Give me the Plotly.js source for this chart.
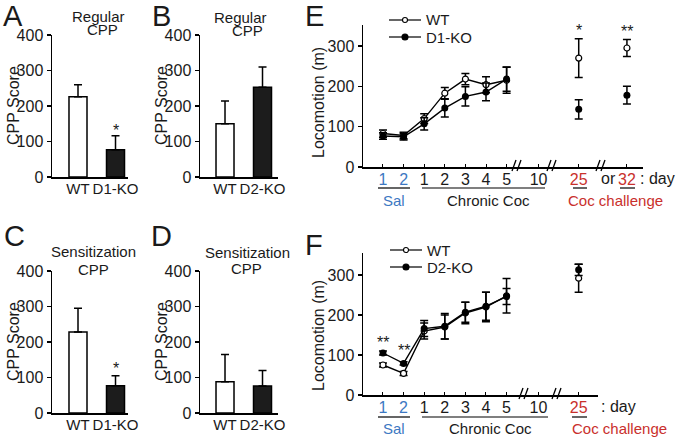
<!DOCTYPE html>
<html>
<head>
<meta charset="utf-8">
<script src="https://cdn.plot.ly/plotly-3.0.1.min.js"></script>
<style>body{margin:0;background:#fff}#chart{width:677px;height:437px}</style>
</head>
<body>
<div id="chart"></div>
<script>
// ---- CPP scores (panels A-D) ----
var groupsD1 = ["WT", "D1-KO"];
var groupsD2 = ["WT", "D2-KO"];
var cppA = [226, 77], cppAerr = [34, 39];
var cppB = [150, 253], cppBerr = [64, 57];
var cppC = [228, 77], cppCerr = [67, 28];
var cppD = [88, 76], cppDerr = [77, 44];

// ---- locomotion (panels E, F) ----
var dayTicks = ["1", "2", "1", "2", "3", "4", "5", "10", "25", "32"];
var daySlot = [0, 1, 2, 3, 4, 5, 6, 7.55, 9.5, 11.84];
var dayColor = ["b", "b", "k", "k", "k", "k", "k", "k", "r", "r"];

var eWt = [83, 78, 120, 183, 218, 204, 215, 270, 295];
var eWtErr = [9, 8, 12, 14, 14, 20, 32, 48, 21];
var eKo = [77, 75, 107, 146, 175, 186, 218, 143, 178];
var eKoErr = [8, 8, 15, 22, 24, 22, 30, 24, 22];
var eX = [0, 1, 2, 3, 4, 5, 6, 9.5, 11.84];

var fWt = [75, 54, 160, 170, 205, 220, 248, 292];
var fWtErr = [5, 5, 20, 30, 27, 37, 43, 35];
var fKo = [105, 79, 166, 172, 207, 222, 246, 313];
var fKoErr = [5, 4, 20, 32, 25, 35, 20, 14];
var fX = [0, 1, 2, 3, 4, 5, 6, 9.5];

var W = 677, H = 437;
function px(x) { return x / W; }
function py(y) { return 1 - y / H; }
var blue = "#3d78c2", red = "#c9302c", ink = "#1a1a1a";

function colorTick(t, c) {
    if (c == "b") return '<span style="color:' + blue + '">' + t + '</span>';
    if (c == "r") return '<span style="color:' + red + '">' + t + '</span>';
    return t;
}

function barX(d0, d1, rng, labels) {
    return {domain: [px(d0), px(d1)], range: rng, showline: true, linecolor: "black", linewidth: 1.5,
        ticks: "", tickvals: [0, 1], ticktext: labels, showgrid: false, zeroline: false,
        tickfont: {size: 15}, ticklabelstandoff: -3};
}
function yAx(top, bottom, maxv, xa) {
    return {domain: [py(bottom), py(top)], range: [0, maxv], anchor: xa, showline: true, linecolor: "black",
        linewidth: 1.5, ticks: "outside", ticklen: 4, tickwidth: 1.5, tickcolor: "black",
        tickvals: [0, 100, 200, 300, 400], showgrid: false, zeroline: false, tickfont: {size: 16}};
}
function barTrace(vals, errs, xa, ya) {
    return {type: "bar", x: [0, 1], y: vals, width: 0.48, xaxis: xa, yaxis: ya, showlegend: false,
        marker: {color: ["white", "#1c1c1c"], line: {color: "black", width: 1.5}},
        error_y: {type: "data", symmetric: false, array: errs, arrayminus: [0, 0], color: "black", thickness: 1.5, width: 4}};
}
function lineTrace(xs, ys, es, filled, xa, ya, mode) {
    return {type: "scatter", mode: mode, x: xs, y: ys, xaxis: xa, yaxis: ya, showlegend: false,
        line: {color: "black", width: 1.4},
        marker: filled ? {symbol: "circle", size: 7, color: "black"} : {symbol: "circle", size: 6, color: "white", line: {color: "black", width: 1.2}},
        error_y: {type: "data", array: es, color: "black", thickness: 1.5, width: 4}};
}

var data = [
    barTrace(cppA, cppAerr, "x", "y"),
    barTrace(cppB, cppBerr, "x2", "y2"),
    barTrace(cppC, cppCerr, "x3", "y3"),
    barTrace(cppD, cppDerr, "x4", "y4"),
    lineTrace(eX.slice(0, 7), eWt.slice(0, 7), eWtErr.slice(0, 7), false, "x5", "y5", "lines+markers"),
    lineTrace(eX.slice(7), eWt.slice(7), eWtErr.slice(7), false, "x5", "y5", "markers"),
    lineTrace(eX.slice(0, 7), eKo.slice(0, 7), eKoErr.slice(0, 7), true, "x5", "y5", "lines+markers"),
    lineTrace(eX.slice(7), eKo.slice(7), eKoErr.slice(7), true, "x5", "y5", "markers"),
    lineTrace(fX.slice(0, 7), fWt.slice(0, 7), fWtErr.slice(0, 7), false, "x6", "y6", "lines+markers"),
    lineTrace(fX.slice(7), fWt.slice(7), fWtErr.slice(7), false, "x6", "y6", "markers"),
    lineTrace(fX.slice(0, 7), fKo.slice(0, 7), fKoErr.slice(0, 7), true, "x6", "y6", "lines+markers"),
    lineTrace(fX.slice(7), fKo.slice(7), fKoErr.slice(7), true, "x6", "y6", "markers")
];

var eTicks = dayTicks.map(function (t, i) { return colorTick(t, dayColor[i]); });
var fTicks = eTicks.slice(0, 9);

function dayX(d0, d1, rng, vals, txt) {
    return {domain: [px(d0), px(d1)], range: rng, showline: true, linecolor: "black", linewidth: 1.5,
        ticks: "inside", ticklen: 3, tickwidth: 1, tickcolor: "black", tickvals: vals, ticktext: txt,
        showgrid: false, zeroline: false, tickfont: {size: 16}, ticklabelstandoff: -3};
}

var ann = [];
function note(text, x, y, size, opts) {
    var a = {text: text, x: px(x), y: py(y), xref: "paper", yref: "paper", showarrow: false,
        xanchor: "center", yanchor: "middle", font: {size: size}};
    for (var k in opts) a[k] = opts[k];
    ann.push(a);
}
function star(text, x, y, xa, ya, shift) {
    ann.push({text: text, x: x, y: y, xref: xa, yref: ya, showarrow: false, yanchor: "middle",
        yshift: shift, font: {size: 16}});
}
// panel letters
note("A", 13, 16, 29); note("B", 161, 16, 29); note("C", 14, 236, 29);
note("D", 161, 236, 29); note("E", 314, 16, 29); note("F", 314, 245, 29);
// panel titles
note("Regular", 98, 17, 15); note("CPP", 102, 29, 15);
note("Regular", 240, 18, 15); note("CPP", 247, 31, 15);
note("Sensitization", 93, 251, 15); note("CPP", 93, 269, 15);
note("Sensitization", 247, 252, 15); note("CPP", 246, 268, 15);
// y titles
note("CPP Score", 13, 106, 16, {textangle: -90});
note("CPP Score", 161, 106, 16, {textangle: -90});
note("CPP Score", 13, 342, 16, {textangle: -90});
note("CPP Score", 161, 342, 16, {textangle: -90});
note("Locomotion (m)", 318, 103, 16, {textangle: -90});
note("Locomotion (m)", 318, 336, 16, {textangle: -90});
// significance
star("*", 1, cppA[1] + cppAerr[1], "x", "y", 5);
star("*", 1, cppC[1] + cppCerr[1], "x3", "y3", 7);
star("*", eX[7], eWt[7] + eWtErr[7], "x5", "y5", 8);
star("**", eX[8], eWt[8] + eWtErr[8], "x5", "y5", 8);
star("**", fX[0], fKo[0] + fKoErr[0], "x6", "y6", 9);
star("**", fX[1], fKo[1] + fKoErr[1], "x6", "y6", 11);
// extra x labels
note("or", 608, 178, 16); note(": day", 657, 178, 16);
note(": day", 618, 406, 16);
note("Sal", 394, 200, 15, {font: {size: 15, color: blue}});
note("Chronic Coc", 488, 200, 15);
note("Coc challenge", 615, 200, 15, {font: {size: 15, color: red}});
note("Sal", 394, 428, 15, {font: {size: 15, color: blue}});
note("Chronic Coc", 490, 428, 15);
note("Coc challenge", 619, 428, 15, {font: {size: 15, color: red}});

var shapes = [];
function seg(x0, y0, x1, y1, w) {
    shapes.push({type: "line", xref: "paper", yref: "paper", x0: px(x0), x1: px(x1), y0: py(y0), y1: py(y1),
        line: {color: "black", width: w}});
}
// group underlines
seg(378, 188, 410, 188, 1.2); seg(422, 188, 545, 188, 1.2);
seg(573, 188, 587, 188, 1.2); seg(620, 188, 635, 188, 1.2);
seg(378, 417, 410, 417, 1.2); seg(422, 417, 548, 417, 1.2);
seg(572, 417, 587, 417, 1.2);
// axis breaks
function brk(x, y) { seg(x - 6, y + 5, x - 2, y - 6, 1.3); seg(x - 1, y + 5, x + 3, y - 6, 1.3); }
[518, 553, 602].forEach(function (x) { brk(x, 166); });
[525, 558].forEach(function (x) { brk(x, 394); });
// legends
function legendItem(x, y, filled, label) {
    seg(x, y, x + 32, y, 1.2);
    var r = filled ? 3 : 2.5;
    shapes.push({type: "circle", xref: "paper", yref: "paper", x0: px(x + 16 - r), x1: px(x + 16 + r),
        y0: py(y + r), y1: py(y - r), fillcolor: filled ? "black" : "white", line: {color: "black", width: 1.1}});
    note(label, x + 35, y, 15, {xanchor: "left"});
}
legendItem(389, 20, false, "WT"); legendItem(389, 37, true, "D1-KO");
legendItem(390, 250, false, "WT"); legendItem(390, 267, true, "D2-KO");

var layout = {
    width: W, height: H, margin: {l: 0, r: 0, t: 0, b: 0},
    paper_bgcolor: "white", plot_bgcolor: "rgba(0,0,0,0)", showlegend: false,
    font: {family: "Liberation Sans, Arial, sans-serif", color: ink, size: 15},
    xaxis: barX(52, 128, [-0.693, 1.333], groupsD1), yaxis: yAx(35, 177, 400, "x"),
    xaxis2: barX(200, 278, [-0.667, 1.413], groupsD2), yaxis2: yAx(35, 177, 400, "x2"),
    xaxis3: barX(52, 128, [-0.693, 1.333], groupsD1), yaxis3: yAx(271, 413, 400, "x3"),
    xaxis4: barX(200, 278, [-0.667, 1.413], groupsD2), yaxis4: yAx(271, 413, 400, "x4"),
    xaxis5: dayX(363, 643, [-0.97, 12.62], daySlot, eTicks), yaxis5: yAx(25, 167, 352, "x5"),
    xaxis6: dayX(363, 598, [-0.97, 10.44], daySlot.slice(0, 9), fTicks), yaxis6: yAx(253, 395, 355, "x6"),
    annotations: ann,
    shapes: shapes
};
["xaxis", "xaxis2", "xaxis3", "xaxis4", "xaxis5", "xaxis6"].forEach(function (k, i) {
    layout[k].anchor = "y" + (i ? i + 1 : "");
});

Plotly.newPlot("chart", data, layout, {displayModeBar: false, staticPlot: true});
</script>
</body>
</html>
